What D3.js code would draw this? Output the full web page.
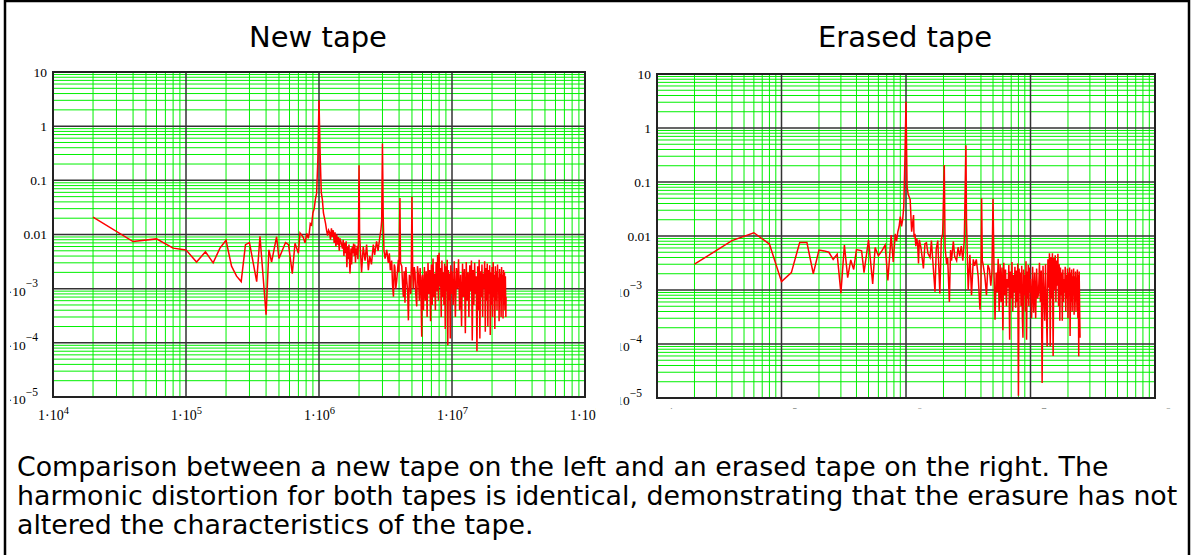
<!DOCTYPE html>
<html>
<head>
<meta charset="utf-8">
<script src="https://cdn.jsdelivr.net/npm/d3@7"></script>
<style>
  body { margin: 0; background: #fff; }
  svg { display: block; }
</style>
</head>
<body>
<svg id="chart" width="1191" height="555"></svg>
<script>
// ---- data ----
const titles = ["New tape", "Erased tape"];
const captionLines = [
  "Comparison between a new tape on the left and an erased tape on the right. The",
  "harmonic distortion for both tapes is identical, demonstrating that the erasure has not",
  "altered the characteristics of the tape."
];
const xDomain = [1e4, 1e8];
const yDomain = [1e-5, 10];
const xTickValues = [1e4, 1e5, 1e6, 1e7, 1e8];
const xTickBase = ["1·10", "1·10", "1·10", "1·10", "1·10"];
const xTickExp = ["4", "5", "6", "7", "8"];
const yTickValues = [10, 1, 0.1, 0.01, 1e-3, 1e-4, 1e-5];
const yTickBase = ["10", "1", "0.1", "0.01", "1·10", "1·10", "1·10"];
const yTickExp = ["", "", "", "", "−3", "−4", "−5"];

// [frequency in kHz, amplitude]
const newTape = [
  [20,0.021],[40,0.0074],[60,0.0083],[80,0.0056],[100,0.0052],[120,0.0031],[140,0.0048],[160,0.0030],[180,0.0056],[200,0.0078],
  [220,0.0026],[240,0.0017],[260,0.00135],[280,0.0065],[300,0.0071],[340,0.00135],[360,0.0093],[400,0.00033],[420,0.0052],[440,0.0031],
  [480,0.0091],[500,0.0036],[560,0.0071],[590,0.0065],[630,0.0019],[660,0.0069],[700,0.0045],[720,0.0107],[760,0.0090],[785,0.0070],
  [810,0.0105],[830,0.0085],[845,0.0106],[860,0.016],[880,0.015],[900,0.025],[920,0.030],[940,0.045],[960,0.058],[980,0.24],
  [1000,3.0],[1020,0.30],[1040,0.060],[1060,0.044],[1080,0.025],[1100,0.020],[1120,0.016],[1140,0.012],[1160,0.0095],[1180,0.012],
  [1200,0.011],[1220,0.008],[1240,0.013],[1260,0.009],[1280,0.012],[1300,0.007],[1320,0.011],[1340,0.006],[1360,0.010],[1380,0.0065],
  [1400,0.009],[1420,0.005],[1440,0.0085],[1480,0.0065],[1500,0.0055],[1520,0.008],[1540,0.004],[1560,0.007],[1580,0.0045],[1600,0.0075],
  [1620,0.0025],[1640,0.006],[1660,0.0035],[1680,0.0065],[1710,0.0019],[1740,0.0055],[1760,0.0028],[1780,0.006],[1800,0.0045],[1820,0.0068],
  [1840,0.004],[1860,0.0065],[1880,0.003],[1900,0.0055],[1920,0.0042],[1940,0.0062],[1960,0.0035],[1980,0.0078],[2000,0.19],[2020,0.010],
  [2090,0.0020],[2150,0.0060],[2220,0.0033],[2280,0.0065],[2350,0.0022],[2410,0.0040],[2480,0.0028],[2560,0.0065],[2620,0.0042],[2710,0.0075],
  [2780,0.0050],[2870,0.0091],[2920,0.012],[2960,0.018],[3000,0.48],[3040,0.021],[3080,0.0050],[3140,0.0036],[3230,0.0052],[3320,0.0030],
  [3380,0.0045],[3440,0.0022],[3520,0.0033],[3570,0.0012],[3630,0.00071],[3680,0.0028],[3720,0.0025],[3780,0.0010],[3840,0.0014],[3950,0.0034],
  [3990,0.0020],[4060,0.047],[4100,0.0030],[4190,0.0026],[4250,0.0012],[4310,0.0007],[4370,0.0021],[4430,0.00055],[4500,0.0025],[4570,0.0014],
  [4640,0.0009],[4700,0.00026],[4780,0.0018],[4830,0.0015],[4900,0.0008],[4950,0.0030],[5000,0.050],[5060,0.0022],[5120,0.0010],[5200,0.0025],
  [5270,0.0020],[5340,0.0008],[5430,0.00047],[5500,0.0026],[5590,0.0018],[5680,0.0006],[5760,0.0024],[5840,0.0009],[5920,0.00013],[5960,0.0016],
  [6000,0.0018],[6100,0.0004],[6200,0.0025],[6300,0.0006],[6400,0.0021],[6500,0.0003],[6600,0.0030],[6700,0.0008],[6800,0.0022],[6900,0.00025],
  [7000,0.0028],[7100,0.0005],[7200,0.0036],[7300,0.0007],[7400,0.0019],[7500,0.0004],[7600,0.0031],[7700,0.0009],[7800,0.0042],[7900,0.0006],
  [8000,0.0046],[8100,0.0011],[8200,0.0024],[8300,0.0003],[8400,0.0033],[8500,0.0007],[8600,0.0020],[8700,0.0005],[8800,0.0029],[8900,0.00018],
  [9000,0.0026],[9100,0.0009],[9200,0.0034],[9300,0.00009],[9400,0.0022],[9500,0.0006],[9600,0.0019],[9700,0.00012],[9800,0.0027],[9900,0.0008],
  [10000,0.0021],[10200,0.0005],[10400,0.0032],[10600,0.0003],[10800,0.0024],[11000,0.0010],[11200,0.0035],[11400,0.0004],[11600,0.0018],[11800,0.0002],
  [12000,0.0029],[12200,0.0007],[12400,0.0023],[12600,0.00015],[12800,0.0031],[13000,0.0006],[13200,0.0020],[13400,0.0003],[13600,0.0027],[13800,0.0009],
  [14000,0.0033],[14200,0.00011],[14400,0.0022],[14600,0.0005],[14800,0.0030],[15000,0.0008],[15200,0.0017],[15400,0.00007],[15600,0.0026],[15800,0.0004],
  [16000,0.0034],[16200,0.00012],[16400,0.0021],[16600,0.0007],[16800,0.0028],[17000,0.0003],[17200,0.0019],[17400,0.0010],[17600,0.0032],[17800,0.00016],
  [18000,0.0024],[18200,0.0006],[18400,0.0029],[18600,0.0002],[18800,0.0022],[19000,0.0008],[19200,0.0027],[19400,0.00014],[19600,0.0020],[19800,0.0005],
  [20000,0.0025],[20200,0.0003],[20400,0.0031],[20600,0.0007],[20800,0.0018],[21000,0.00018],[21200,0.0026],[21400,0.0006],[21600,0.0021],[21800,0.0004],
  [22000,0.0028],[22200,0.0009],[22400,0.0016],[22600,0.00025],[22800,0.0023],[23000,0.0006],[23200,0.0019],[23400,0.0003],[23600,0.0025],[23800,0.0008],
  [24000,0.0018],[24200,0.00028],[24400,0.0022],[24600,0.0005],[24800,0.0020],[25000,0.0004],[25200,0.0017],[25400,0.0003],[25500,0.0007]
];

const erasedTape = [
  [20,0.0030],[40,0.0082],[60,0.0115],[80,0.0071],[100,0.00143],[120,0.0021],[140,0.0076],[160,0.0076],[180,0.0020],[200,0.0055],
  [220,0.0053],[240,0.0050],[260,0.0037],[280,0.0046],[300,0.00087],[320,0.0068],[340,0.0017],[360,0.0036],[380,0.0024],[400,0.0056],
  [440,0.0053],[460,0.0021],[500,0.0085],[540,0.0013],[565,0.0061],[600,0.0043],[640,0.0053],[680,0.0068],[715,0.0015],[760,0.0104],
  [790,0.0033],[820,0.011],[840,0.008],[860,0.012],[880,0.0148],[900,0.0228],[920,0.015],[940,0.020],[960,0.035],[980,0.26],
  [1000,3.07],[1020,0.081],[1040,0.060],[1080,0.047],[1110,0.012],[1150,0.0245],[1160,0.0095],[1180,0.011],[1200,0.0065],[1220,0.009],
  [1240,0.0073],[1260,0.0031],[1280,0.0085],[1320,0.006],[1380,0.0025],[1420,0.0072],[1460,0.0075],[1500,0.0048],[1560,0.0040],[1600,0.0082],
  [1640,0.0036],[1710,0.00093],[1750,0.0058],[1800,0.0082],[1870,0.00086],[1920,0.0085],[1970,0.011],[2030,0.206],[2060,0.0062],[2120,0.0030],
  [2160,0.0040],[2230,0.0006],[2280,0.0055],[2320,0.0035],[2400,0.0080],[2460,0.0042],[2550,0.0035],[2620,0.0062],[2700,0.0042],[2780,0.0065],
  [2860,0.0035],[2940,0.0085],[3030,0.48],[3060,0.0197],[3100,0.0055],[3160,0.0010],[3260,0.0045],[3360,0.0008],[3470,0.0037],[3560,0.0028],
  [3670,0.0037],[3800,0.0018],[3930,0.00043],[4000,0.0012],[4050,0.050],[4100,0.0035],[4170,0.0029],[4300,0.0018],[4430,0.0008],[4550,0.0029],
  [4680,0.0024],[4800,0.0012],[4900,0.0022],[5000,0.049],[5100,0.0018],[5190,0.00028],
  [5300,0.0021],[5400,0.0009],[5500,0.0038],[5600,0.0004],[5700,0.0030],[5800,0.0006],[5900,0.0026],[6000,0.00018],[6100,0.0032],[6200,0.0008],
  [6300,0.0024],[6400,0.0005],[6500,0.0016],[6600,0.0011],[6700,0.0029],[6800,0.00012],[6900,0.0022],[7000,0.0007],[7100,0.0033],[7200,0.0004],
  [7300,0.0019],[7400,0.0009],[7500,0.0027],[7600,0.00047],[7700,0.0023],[7800,0.0006],[7900,0.0031],[8000,0.000011],[8100,0.0025],[8200,0.00086],
  [8300,0.0021],[8400,0.0005],[8500,0.0028],[8600,0.0003],[8700,0.00013],[8800,0.0024],[8900,0.0008],[9000,0.0019],[9100,0.0004],[9200,0.0034],
  [9300,0.00012],[9400,0.0022],[9500,0.0007],[9600,0.0029],[9700,0.0005],[9800,0.0026],[9900,0.0009],[10000,0.0016],[10200,0.0003],[10400,0.0027],
  [10600,0.00038],[10800,0.0021],[11000,0.0003],[11200,0.0025],[11400,0.0007],[11600,0.00086],[11800,0.0032],[12000,0.0006],[12200,0.0023],[12400,0.000019],
  [12600,0.0028],[12800,0.0009],[13000,0.00027],[13200,0.0030],[13400,0.0005],[13600,0.00009],[13800,0.0037],[14000,0.0011],[14200,0.0048],[14400,0.00009],
  [14600,0.0041],[14800,0.0007],[15000,0.0048],[15200,0.00006],[15400,0.0039],[15600,0.0010],[15800,0.0044],[16000,0.0006],[16200,0.0035],[16400,0.0012],
  [16600,0.0047],[16800,0.0005],[17000,0.0030],[17200,0.00027],[17400,0.0026],[17600,0.0008],[17800,0.0021],[18000,0.00027],[18200,0.0024],[18400,0.0006],
  [18600,0.0016],[18800,0.0009],[19000,0.0027],[19200,0.0004],[19400,0.0019],[19600,0.0007],[19800,0.0025],[20000,0.0003],[20200,0.0021],[20400,0.0008],
  [20600,0.0026],[20800,0.00014],[21000,0.0021],[21200,0.0006],[21400,0.0024],[21600,0.0004],[21800,0.0018],[22000,0.0009],[22200,0.0025],[22400,0.00035],
  [22600,0.0018],[22800,0.0006],[23000,0.0022],[23200,0.0004],[23400,0.0017],[23600,0.0010],[23800,0.0024],[24000,0.0003],[24200,0.0019],[24400,0.000059],
  [24600,0.0022],[24800,0.0005],[25000,0.00013]
];

// ---- layout ----
const svg = d3.select("#chart");
const serif = "'Liberation Serif', 'Times New Roman', serif";
const sans = "'DejaVu Sans', Verdana, sans-serif";

const panels = [
  { data: newTape, left: 53, right: 585, top: 72, bottom: 397, cx: 318,
    clip: { x: 10, y: 0, w: 586, h: 440 } },
  { data: erasedTape, left: 657, right: 1155, top: 74, bottom: 398, cx: 905,
    clip: { x: 620.5, y: 0, w: 567, h: 408.5 } }
];

const isDecade = v => Math.abs(Math.log10(v) - Math.round(Math.log10(v))) < 1e-9;

panels.forEach((p, i) => {
  const x = d3.scaleLog().domain(xDomain).range([p.left, p.right]);
  const y = d3.scaleLog().domain(yDomain).range([p.bottom, p.top]);

  svg.append("text")
    .attr("x", p.cx).attr("y", 47)
    .attr("text-anchor", "middle")
    .style("font-family", sans).style("font-size", "29px")
    .text(titles[i]);

  const g = svg.append("g");

  // minor grid (green)
  const xMinor = x.ticks().filter(v => !isDecade(v));
  const yMinor = y.ticks().filter(v => !isDecade(v));
  g.append("g").selectAll("line").data(xMinor).join("line")
    .attr("x1", d => x(d)).attr("x2", d => x(d))
    .attr("y1", p.top).attr("y2", p.bottom)
    .attr("stroke", "#00f000").attr("stroke-width", 1);
  g.append("g").selectAll("line").data(yMinor).join("line")
    .attr("y1", d => y(d)).attr("y2", d => y(d))
    .attr("x1", p.left).attr("x2", p.right)
    .attr("stroke", "#00f000").attr("stroke-width", 1);

  // decade grid (dark)
  const xMajor = x.ticks().filter(isDecade);
  const yMajor = y.ticks().filter(isDecade);
  g.append("g").selectAll("line").data(xMajor).join("line")
    .attr("x1", d => x(d)).attr("x2", d => x(d))
    .attr("y1", p.top).attr("y2", p.bottom)
    .attr("stroke", "#333").attr("stroke-width", 1.5);
  g.append("g").selectAll("line").data(yMajor).join("line")
    .attr("y1", d => y(d)).attr("y2", d => y(d))
    .attr("x1", p.left).attr("x2", p.right)
    .attr("stroke", "#333").attr("stroke-width", 1.5);

  // series
  const clipId = "plot" + i;
  svg.append("clipPath").attr("id", clipId).append("rect")
    .attr("x", p.left).attr("y", p.top)
    .attr("width", p.right - p.left).attr("height", p.bottom - p.top);
  const line = d3.line().x(d => x(d[0] * 1e3)).y(d => y(d[1]));
  g.append("path").datum(p.data)
    .attr("clip-path", "url(#" + clipId + ")")
    .attr("fill", "none").attr("stroke", "#ff0000")
    .attr("stroke-width", 1.5).attr("stroke-linejoin", "miter")
    .attr("d", line);

  // frame
  g.append("rect")
    .attr("x", p.left).attr("y", p.top)
    .attr("width", p.right - p.left).attr("height", p.bottom - p.top)
    .attr("fill", "none").attr("stroke", "#222").attr("stroke-width", 2);

  // tick labels (clipped like the original page)
  const labClip = "lab" + i;
  svg.append("clipPath").attr("id", labClip).append("rect")
    .attr("x", p.clip.x).attr("y", p.clip.y)
    .attr("width", p.clip.w).attr("height", p.clip.h);
  const labels = svg.append("g").attr("clip-path", "url(#" + labClip + ")");

  const yAxis = labels.append("g")
    .attr("transform", "translate(" + p.left + ",0)")
    .call(d3.axisLeft(y).tickValues(yTickValues).tickSize(0).tickPadding(6));
  yAxis.select(".domain").remove();
  yAxis.selectAll("text").each(function (d, k) {
    const t = d3.select(this).text(null)
      .style("font-family", serif).style("font-size", "13.5px").attr("fill", "#000");
    t.append("tspan").text(yTickBase[k]);
    if (yTickExp[k]) {
      t.attr("x", -15).attr("dy", "0.5em");
      t.append("tspan").attr("dy", "-0.75em").style("font-size", "11.5px").text(yTickExp[k]);
    }
  });

  const xAxis = labels.append("g")
    .attr("transform", "translate(0," + p.bottom + ")")
    .call(d3.axisBottom(x).tickValues(xTickValues).tickSize(0).tickPadding(13));
  xAxis.select(".domain").remove();
  xAxis.selectAll("text").each(function (d, k) {
    const t = d3.select(this).text(null)
      .style("font-family", serif).style("font-size", "14px").attr("fill", "#000");
    t.append("tspan").text(xTickBase[k]);
    t.append("tspan").attr("dy", "-0.6em").style("font-size", "10.5px").text(xTickExp[k]);
  });
});

// caption
svg.append("text")
  .style("font-family", sans).style("font-size", "26.8px").attr("fill", "#000")
  .selectAll("tspan").data(captionLines).join("tspan")
  .attr("x", 17).attr("y", (d, k) => 476 + k * 29)
  .text(d => d);

// outer frame
svg.append("path")
  .attr("d", "M5,555V1H1189V555")
  .attr("fill", "none").attr("stroke", "#000").attr("stroke-width", 2.5);
</script>
</body>
</html>
